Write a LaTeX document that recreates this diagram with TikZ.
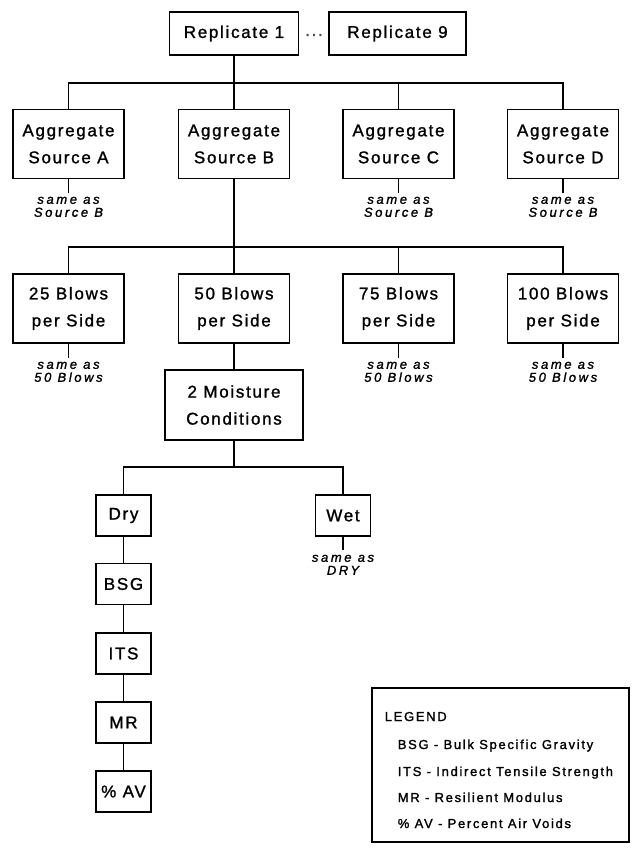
\documentclass[tikz,border=0pt]{standalone}
\usepackage{fontspec}
\setmainfont{Liberation Sans}[LetterSpace=10,FakeBold=1.3]
\newfontfamily\notefont{Liberation Sans}[LetterSpace=20,FakeBold=1.5]
\newfontfamily\legfont{Liberation Sans}[LetterSpace=13,FakeBold=1.5]
\begin{document}
\begin{tikzpicture}[x=1pt,y=-1pt,line width=1.6pt,
  box/.style={draw,inner sep=0pt,align=center,font=\fontsize{17}{27}\selectfont},
  bigbox/.style={box,minimum width=111pt,minimum height=69pt},
  smallbox/.style={box,minimum width=55pt,minimum height=41pt},
  note/.style={align=center,inner sep=0pt,font=\notefont\itshape\fontsize{13}{13}\selectfont},
  leg/.style={anchor=base west,inner sep=0pt,font=\legfont\fontsize{13}{13}\selectfont}]
\useasboundingbox (0,0) rectangle (631,850);
% top
\node[box,minimum width=129pt,minimum height=43pt] (rep1) at (234,33.5) {Replicate 1};
\node[box,minimum width=137pt,minimum height=43pt] (rep9) at (397.5,33.5) {Replicate 9};
\node[inner sep=0pt,font=\fontsize{17}{17}\selectfont,text=black!70] (dots) at (314,35) {...};
% sources
\node[bigbox] (srcA) at (68.5,144) {Aggregate\\Source A};
\node[bigbox] (srcB) at (234,144) {Aggregate\\Source B};
\node[bigbox] (srcC) at (398.5,144) {Aggregate\\Source C};
\node[bigbox] (srcD) at (563,144) {Aggregate\\Source D};
\coordinate (bus1) at (0,83);
\draw (rep1.south) -- (srcB.north);
\draw (srcA.north) -- (srcA.north |- bus1) -- (srcD.north |- bus1) -- (srcD.north);
\draw (srcC.north) -- (srcC.north |- bus1);
\node[note,anchor=north] (nA) at (68.5,196) {same as\\Source B};
\node[note,anchor=north] (nC) at (398.5,196) {same as\\Source B};
\node[note,anchor=north] (nD) at (563,196) {same as\\Source B};
\draw (srcA.south) -- ++(0,14);
\draw (srcC.south) -- ++(0,14);
\draw (srcD.south) -- ++(0,14);
% blows
\node[bigbox] (b25) at (68.5,308.5) {25 Blows\\per Side};
\node[bigbox] (b50) at (234,308.5) {50 Blows\\per Side};
\node[bigbox] (b75) at (398.5,308.5) {75 Blows\\per Side};
\node[bigbox] (b100) at (563,308.5) {100 Blows\\per Side};
\coordinate (bus2) at (0,247);
\draw (srcB.south) -- (b50.north);
\draw (b25.north) -- (b25.north |- bus2) -- (b100.north |- bus2) -- (b100.north);
\draw (b75.north) -- (b75.north |- bus2);
\node[note,anchor=north] (n25) at (68.5,361) {same as\\50 Blows};
\node[note,anchor=north] (n75) at (398.5,361) {same as\\50 Blows};
\node[note,anchor=north] (n100) at (563,361) {same as\\50 Blows};
\draw (b25.south) -- ++(0,14);
\draw (b75.south) -- ++(0,14);
\draw (b100.south) -- ++(0,14);
% moisture
\node[box,minimum width=138pt,minimum height=70pt] (moist) at (234,405) {2 Moisture\\Conditions};
\draw (b50.south) -- (moist.north);
\node[smallbox] (dry) at (123.5,515.5) {Dry};
\node[smallbox] (wet) at (343,515.5) {Wet};
\coordinate (bus3) at (0,467);
\draw (moist.south) -- (moist.south |- bus3);
\draw (dry.north) -- (dry.north |- bus3) -- (wet.north |- bus3) -- (wet.north);
\node[note,anchor=north] (nW) at (343,554) {same as\\DRY};
\draw (wet.south) -- ++(0,13);
% tests
\node[smallbox] (bsg) at (123.5,584) {BSG};
\node[smallbox] (its) at (123.5,653.5) {ITS};
\node[smallbox] (mr) at (123.5,722.5) {MR};
\node[smallbox] (av) at (123.5,791.5) {\% AV};
\draw (dry) -- (bsg) -- (its) -- (mr) -- (av);
% legend
\node[draw,minimum width=257pt,minimum height=154pt,inner sep=0pt] (legend) at (500.5,765) {};
\node[leg] (lt) at (384,721) {LEGEND};
\node[leg] (l1) at (397,749) {BSG - Bulk Specific Gravity};
\node[leg] (l2) at (397,776) {ITS - Indirect Tensile Strength};
\node[leg] (l3) at (397,802) {MR - Resilient Modulus};
\node[leg] (l4) at (397,828) {\% AV - Percent Air Voids};
\end{tikzpicture}
\end{document}
